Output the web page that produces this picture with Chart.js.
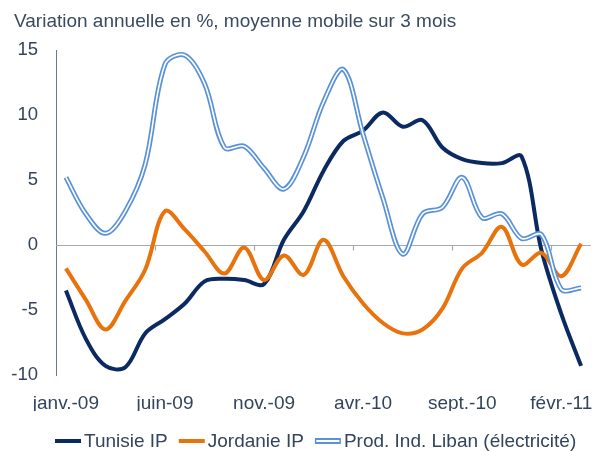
<!DOCTYPE html>
<html><head><meta charset="utf-8">
<script src="https://cdn.jsdelivr.net/npm/chart.js@4.4.0/dist/chart.umd.min.js"></script>
<style>html,body{margin:0;padding:0;background:#fff}#wrap{width:592px;height:451px}</style>
</head><body><div id="wrap"><canvas id="c" width="592" height="451"></canvas></div>
<script>
const categories = ["janv.-09","févr.-09","mars-09","avr.-09","mai-09","juin-09","juil.-09","août-09","sept.-09","oct.-09","nov.-09","déc.-09","janv.-10","févr.-10","mars-10","avr.-10","mai-10","juin-10","juil.-10","août-10","sept.-10","oct.-10","nov.-10","déc.-10","janv.-11","févr.-11","mars-11"];
const tunisie = [-3.5,-7.2,-9.3,-9.4,-6.8,-5.7,-4.5,-2.8,-2.6,-2.7,-3.0,0.4,2.6,5.7,8.0,8.8,10.2,9.1,9.6,7.5,6.6,6.3,6.3,6.8,-0.4,-5.3,-9.3];
const jordanie = [-1.8,-4.2,-6.5,-4.3,-1.9,2.6,1.2,-0.5,-2.2,-0.2,-2.7,-0.8,-2.3,0.4,-2.4,-4.5,-6.0,-6.8,-6.5,-4.9,-1.8,-0.6,1.4,-1.5,-0.6,-2.4,0.1];
const liban = [5.2,2.4,0.9,2.6,6.2,13.9,14.6,12.4,7.5,7.6,5.9,4.3,6.8,11.0,13.5,8.5,3.6,-0.7,2.4,2.9,5.2,2.1,2.4,0.5,0.8,-3.4,-3.3];
const yTicks = [-10,-5,0,5,10,15];
const seriesNames = ["Tunisie IP","Jordanie IP","Prod. Ind. Liban (électricité)"];
const titleText = "Variation annuelle en %, moyenne mobile sur 3 mois";

const txt = '#34445c';
const FONT = "'Liberation Sans', Arial, sans-serif";

const deco = {
  id:'deco',
  beforeDatasetsDraw(chart){
    const ctx = chart.ctx, x = chart.scales.x, y = chart.scales.y;
    const y0 = Math.round(y.getPixelForValue(0)) + 0.5;
    ctx.save();
    ctx.strokeStyle = '#a8a8a8'; ctx.lineWidth = 1.2;
    ctx.beginPath(); ctx.moveTo(chart.chartArea.left, y0); ctx.lineTo(chart.chartArea.right, y0); ctx.stroke();
    const w = (x.getPixelForValue(1) - x.getPixelForValue(0));
    for (let i = 5; i < categories.length; i += 5) {
      const px = Math.round(x.getPixelForValue(i) - w/2) + 0.5;
      ctx.beginPath(); ctx.moveTo(px, y0); ctx.lineTo(px, y0 + 5); ctx.stroke();
    }
    ctx.restore();
  },
  afterDraw(chart){
    const ctx = chart.ctx;
    ctx.save();
    ctx.fillStyle = '#3a4a63';
    ctx.font = "19px " + FONT;
    ctx.textBaseline = 'alphabetic';
    ctx.fillText(titleText, 14, 27);
    // legend
    const ds = chart.data.datasets;
    const items = [
      {text:seriesNames[0], color:ds[0].borderColor, dbl:false},
      {text:seriesNames[1], color:ds[1].borderColor, dbl:false},
      {text:seriesNames[2], color:ds[2].borderColor, dbl:true}
    ];
    ctx.font = "19px " + FONT;
    ctx.textBaseline = 'middle';
    let lx = 55; const ly = 441;
    items.forEach(it => {
      if (it.dbl) {
        ctx.fillStyle = it.color; ctx.fillRect(lx, ly - 3, 26, 6);
        ctx.fillStyle = '#fff'; ctx.fillRect(lx + 1.5, ly - 1, 23, 2);
      } else {
        ctx.fillStyle = it.color; ctx.fillRect(lx, ly - 2, 26, 4);
      }
      lx += 29;
      ctx.fillStyle = txt;
      ctx.fillText(it.text, lx, ly + 1);
      lx += ctx.measureText(it.text).width + 11;
    });
    ctx.restore();
  }
};

new Chart(document.getElementById('c'), {
  type:'line',
  data:{
    labels: categories,
    datasets:[
      {label:seriesNames[0], data:tunisie, borderColor:'#0c2a62', borderWidth:4, pointRadius:0, tension:0.35, order:3},
      {label:seriesNames[1], data:jordanie, borderColor:'#e8720c', borderWidth:4, pointRadius:0, tension:0.35, order:2},
      {label:seriesNames[2], data:liban, borderColor:'#5a92d8', borderWidth:5, pointRadius:0, tension:0.35, order:1},
      {label:'_inner', data:liban, borderColor:'#ffffff', borderWidth:1.6, pointRadius:0, tension:0.35, order:0}
    ]
  },
  options:{
    responsive:false, animation:false,
    layout:{padding:{top:50,left:0,right:1,bottom:40}},
    plugins:{ title:{display:false}, tooltip:{enabled:false}, legend:{display:false} },
    scales:{
      x:{
        type:'category', offset:true,
        afterFit(s){ s.height = 36; },
        grid:{display:false, offset:true}, border:{display:false},
        ticks:{autoSkip:false, maxRotation:0, color:txt, font:{size:19,family:FONT}, padding:9,
          callback(v,i){ return i % 5 === 0 ? categories[i] : ''; }}
      },
      y:{
        min:-10, max:15,
        afterFit(s){ s.width = 56; },
        afterBuildTicks(s){ s.ticks = yTicks.map(v=>({value:v})); },
        grid:{display:false}, border:{display:true, color:'#6a7890', width:1},
        ticks:{color:txt, font:{size:18.5,family:FONT}, padding:10}
      }
    }
  },
  plugins:[deco]
});
</script></body></html>
